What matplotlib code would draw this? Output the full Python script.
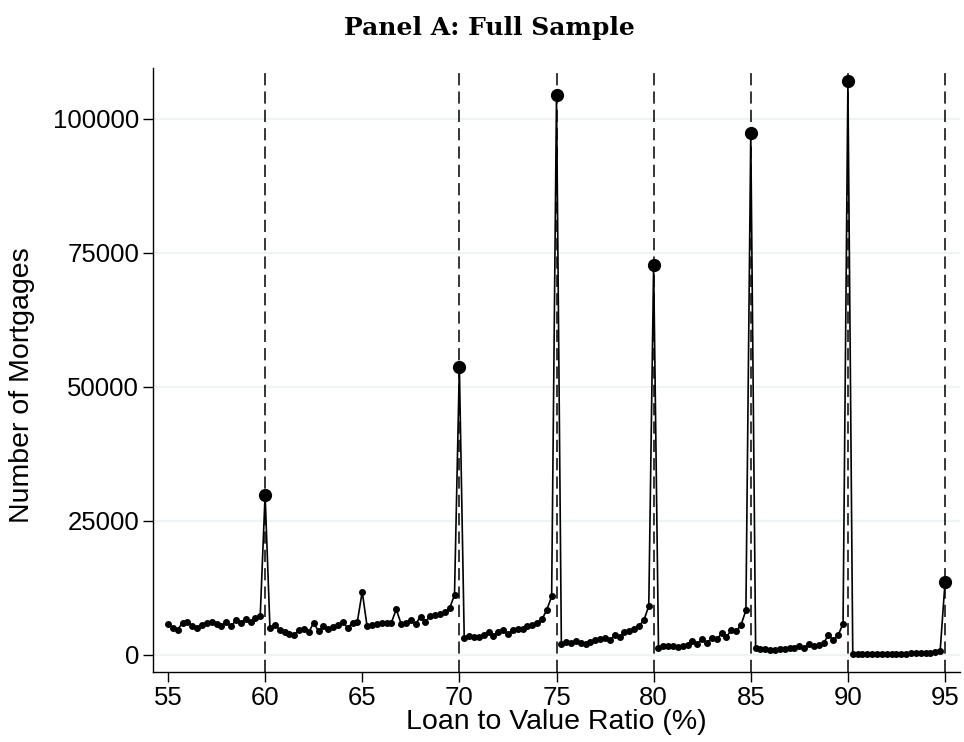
import numpy as np
import matplotlib
matplotlib.use("Agg")
import matplotlib.pyplot as plt

# LTV grid: 55 to 95 in steps of 0.25
ltv_start, ltv_end, ltv_step = 55.0, 95.0, 0.25

# Number of mortgages (thousands) by segment
seg_55_60 = [5.8, 5.0, 4.7, 6.0, 6.2, 5.4, 5.1, 5.6, 6.0, 6.2,
             5.8, 5.4, 6.2, 5.3, 6.5, 6.0, 6.7, 6.2, 6.8, 7.3]
val_60 = 29.9
seg_60_65 = [5.0, 5.6, 4.7, 4.2, 3.9, 3.7, 4.7, 4.8, 4.2, 6.0,
             4.4, 5.3, 4.8, 5.2, 5.6, 6.2, 5.0, 6.0, 6.2]
val_65 = 11.8
seg_65_70 = [5.3, 5.6, 5.8, 5.9, 6.0, 6.0, 8.5, 5.8, 5.9, 6.5,
             5.8, 7.1, 6.2, 7.2, 7.4, 7.6, 8.0, 8.7, 11.2]
val_70 = 53.8
seg_70_75 = [3.2, 3.6, 3.4, 3.3, 3.7, 4.2, 3.6, 4.3, 4.6, 3.8,
             4.7, 4.9, 4.9, 5.3, 5.5, 6.0, 6.6, 8.4, 10.9]
val_75 = 104.4
seg_75_80 = [2.1, 2.4, 2.3, 2.6, 2.2, 2.1, 2.4, 2.7, 2.9, 3.2,
             2.8, 3.7, 3.4, 4.2, 4.5, 4.9, 5.4, 6.5, 9.1]
val_80 = 72.8
seg_80_85 = [1.2, 1.7, 1.7, 1.6, 1.5, 1.6, 1.8, 2.5, 2.1, 2.9,
             2.3, 3.1, 2.9, 4.0, 3.3, 4.7, 4.4, 5.6, 8.3]
val_85 = 97.3
seg_85_90 = [1.2, 1.1, 1.0, 0.9, 0.9, 1.0, 1.1, 1.3, 1.2, 1.6,
             1.2, 2.1, 1.7, 1.8, 2.2, 3.7, 2.7, 3.7, 5.8]
val_90 = 107.0
seg_90_95 = [0.2, 0.2, 0.2, 0.2, 0.2, 0.2, 0.2, 0.2, 0.2, 0.2,
             0.2, 0.2, 0.3, 0.3, 0.3, 0.3, 0.4, 0.5, 0.8]
val_95 = 13.6

round_ltv = [60, 70, 75, 80, 85, 90, 95]
x_ticks = [55, 60, 65, 70, 75, 80, 85, 90, 95]
y_ticks = [0, 25000, 50000, 75000, 100000]

counts_k = (seg_55_60 + [val_60] + seg_60_65 + [val_65] + seg_65_70 + [val_70]
            + seg_70_75 + [val_75] + seg_75_80 + [val_80] + seg_80_85 + [val_85]
            + seg_85_90 + [val_90] + seg_90_95 + [val_95])
counts = np.array(counts_k) * 1000.0
ltv = np.round(np.arange(len(counts)) * ltv_step + ltv_start, 2)

fig = plt.figure(figsize=(9.64, 7.42), dpi=100)
ax = fig.add_axes([153/964, 70/742, (960-153)/964, (672-68)/742])

for v in round_ltv:
    ax.axvline(v, color="black", linestyle=(0, (8, 4)), linewidth=1.1, zorder=1)

ax.plot(ltv, counts, color="black", linewidth=1.2, marker="o", markersize=4, zorder=3)
mask = np.isin(ltv, round_ltv)
ax.plot(ltv[mask], counts[mask], linestyle="none", marker="o", markersize=8.5,
        color="black", zorder=4)

ax.set_xlim(54.23, 95.77)
ax.set_ylim(-3200, 109500)
ax.set_xticks(x_ticks)
ax.set_yticks(y_ticks)
ax.set_yticklabels([str(t) for t in y_ticks])
ax.yaxis.grid(True, color="#eaf2f3", linewidth=1.2)
ax.set_axisbelow(True)
for s in ["top", "right"]:
    ax.spines[s].set_visible(False)
for s in ["left", "bottom"]:
    ax.spines[s].set_linewidth(1.0)
ax.tick_params(axis="both", direction="out", length=7, width=1.0,
               labelsize=18.5, colors="black", pad=3)
for lab in ax.get_xticklabels() + ax.get_yticklabels():
    lab.set_fontfamily("Liberation Sans")
ax.set_xlabel("Loan to Value Ratio (%)", fontsize=20.5, family="Liberation Sans")
ax.set_ylabel("Number of Mortgages", fontsize=20.5, family="Liberation Sans")
ax.xaxis.set_label_coords(0.5, -0.082)
ax.yaxis.set_label_coords(-0.162, 0.475)
ax.xaxis.label.set_va("center")
ax.yaxis.label.set_va("center")

fig.text(0.508, 0.962, "Panel A: Full Sample", ha="center", va="center",
         fontsize=18, fontweight="bold", family="DejaVu Serif")

fig.savefig("out.png", dpi=100, facecolor="white")
